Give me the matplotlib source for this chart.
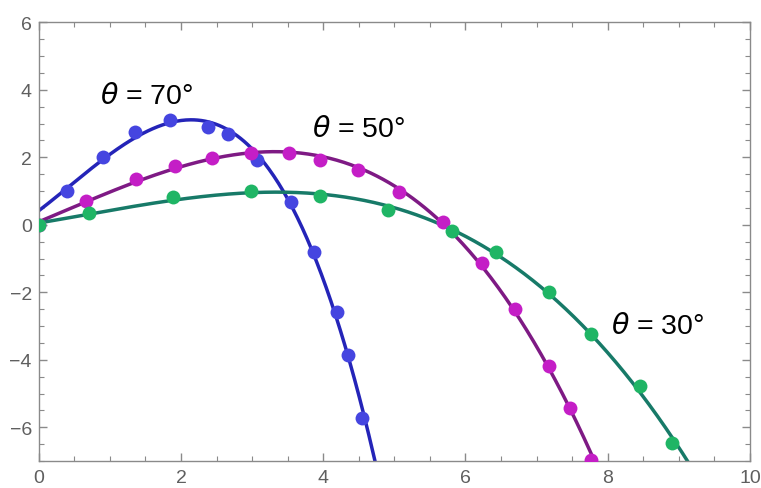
import numpy as np
import matplotlib

matplotlib.use("Agg")
import matplotlib.pyplot as plt
from matplotlib.ticker import MultipleLocator

# measured trajectories (x, y) for each launch angle
x_70 = [0.40, 0.90, 1.36, 1.84, 2.38, 2.66, 3.07, 3.55, 3.87, 4.20, 4.35, 4.55]
y_70 = [0.99, 2.00, 2.74, 3.10, 2.91, 2.69, 1.91, 0.68, -0.81, -2.57, -3.86, -5.73]

x_50 = [0.0, 0.66, 1.37, 1.92, 2.43, 2.98, 3.52, 3.96, 4.49, 5.06, 5.69, 6.23, 6.70, 7.17, 7.47, 7.77]
y_50 = [0.0, 0.71, 1.37, 1.73, 1.99, 2.13, 2.12, 1.92, 1.62, 0.96, 0.08, -1.12, -2.49, -4.17, -5.42, -6.96]

x_30 = [0.0, 0.71, 1.89, 2.99, 3.96, 4.91, 5.81, 6.43, 7.17, 7.77, 8.45, 8.91]
y_30 = [0.0, 0.34, 0.81, 1.00, 0.86, 0.43, -0.19, -0.81, -1.99, -3.25, -4.78, -6.48]

labels = [r"$\theta$ = 70°", r"$\theta$ = 50°", r"$\theta$ = 30°"]
label_pos = [(0.86, 3.81), (3.84, 2.83), (8.05, -3.01)]

# (dot color, fit line color)
STYLES = [
    ("#4545e0", "#2424b8"),
    ("#c41ec6", "#7e1a84"),
    ("#1fb565", "#177a68"),
]

plt.rcParams["font.family"] = ["Liberation Sans", "DejaVu Sans"]
plt.rcParams["mathtext.fontset"] = "dejavusans"

fig = plt.figure(figsize=(7.61, 4.89), dpi=100)
ax = fig.add_axes([0.0509, 0.0552, 0.9346, 0.8971])

series = [(x_70, y_70), (x_50, y_50), (x_30, y_30)]

# cubic least-squares fit for each data set
for (xs, ys), (_, lc) in zip(series, STYLES):
    coef = np.polyfit(xs, ys, 3)
    xf = np.linspace(0, 10, 600)
    ax.plot(xf, np.polyval(coef, xf), color=lc, lw=2.5, zorder=2)

for (xs, ys), (dc, _) in zip(series, STYLES):
    ax.plot(xs, ys, "o", color=dc, ms=10, mec="none", zorder=3)

for text, (tx, ty) in zip(labels, label_pos):
    ax.text(tx, ty, text, fontsize=20.5, va="center", ha="left")

ax.set_xlim(0, 10)
ax.set_ylim(-7, 6)
ax.xaxis.set_major_locator(MultipleLocator(2))
ax.xaxis.set_minor_locator(MultipleLocator(0.5))
ax.yaxis.set_major_locator(MultipleLocator(2))
ax.yaxis.set_minor_locator(MultipleLocator(0.5))

frame = "#8a8a8a"
for sp in ax.spines.values():
    sp.set_color(frame)
    sp.set_linewidth(1.0)
ax.tick_params(which="both", direction="in", top=True, right=True, color=frame,
               labelcolor="#5f5f5f", labelsize=14)
ax.tick_params(axis="x", which="both", pad=6)
ax.tick_params(axis="y", which="both", pad=5)
ax.tick_params(which="major", length=6, width=1.0)
ax.tick_params(which="minor", length=3.5, width=0.8)

fig.savefig("out.png", dpi=100)
